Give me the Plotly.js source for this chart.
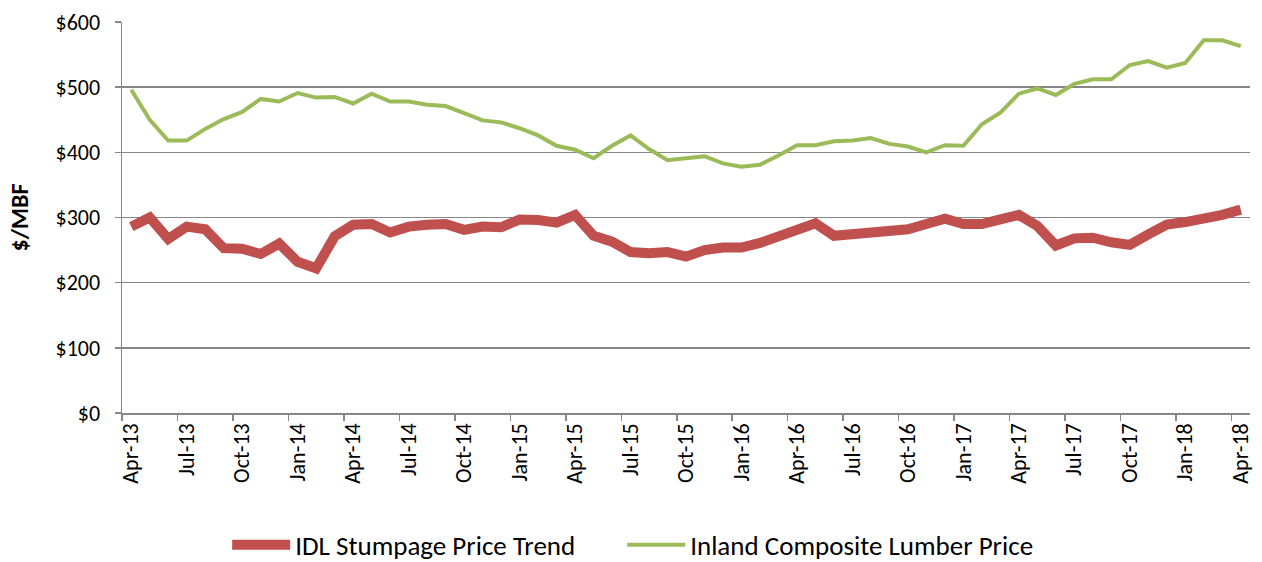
<!DOCTYPE html>
<html>
<head>
<meta charset="utf-8">
<script src="https://cdn.plot.ly/plotly-3.0.1.min.js"></script>
<style>html,body{margin:0;padding:0;background:#fff;}#chart{width:1262px;height:562px;}</style>
</head>
<body>
<div id="chart"></div>
<script>
// Months Apr-13 .. Apr-18 (61 monthly categories)
const monthNames = ["Jan","Feb","Mar","Apr","May","Jun","Jul","Aug","Sep","Oct","Nov","Dec"];
const months = [];
for (let k = 0; k < 61; k++) {
  const m = (3 + k) % 12;
  const y = 13 + Math.floor((3 + k) / 12);
  months.push(monthNames[m] + "-" + y);
}
const idlStumpage = [286,300,267,286,282,253,252,244,260,232,222,271,289,290,277,286,289,290,281,286,
  285,297,296,292,304,272,263,247,245,247,240,250,254,254,261,272,284,291,272,275,
  278,278,282,290,298,290,290,297,304,287,257,268,269,262,258,274,289,293,298,304,312];
const inlandLumber = [496,450,418,418,436,451,462,482,478,491,484,485,475,490,478,478,473,471,460,449,
  446,437,426,410,404,391,410,426,405,388,391,394,383,378,381,395,411,411,417,418,
  422,413,409,400,411,410,443,461,490,498,488,505,512,512,534,540,530,537,572,572,563];

const idx = months.map((_, i) => i);
const labelVals = idx.filter(i => i % 3 === 0);
const labelText = labelVals.map(i => months[i]);
const tickMarks = [];
for (let t = -0.5; t <= 60.5; t += 3) tickMarks.push(t);

const font = "Carlito, Calibri, Lato, sans-serif";
const grid = "#868686";

const traces = [
  {x: idx, y: idlStumpage, name: "IDL Stumpage Price Trend", type: "scatter", mode: "lines",
   line: {color: "#C0504D", width: 10}, legend: "legend"},
  {x: idx, y: inlandLumber, name: "Inland Composite Lumber Price", type: "scatter", mode: "lines",
   line: {color: "#9BBB59", width: 4}, legend: "legend2"}
];

const legendBase = {orientation: "h", xref: "container", yref: "container", xanchor: "left",
  y: 0.03, yanchor: "middle", font: {family: font, size: 27}, itemwidth: 58, bgcolor: "rgba(0,0,0,0)"};

const layout = {
  width: 1262, height: 562,
  margin: {l: 122, r: 12, t: 22, b: 149},
  paper_bgcolor: "#fff", plot_bgcolor: "#fff",
  font: {family: font, size: 22, color: "#000"},
  showlegend: true,
  legend: Object.assign({}, legendBase, {x: 0.18}),
  legend2: Object.assign({}, legendBase, {x: 0.493}),
  xaxis: {range: [-0.5, 60.5], tickmode: "array", tickvals: labelVals, ticktext: labelText,
          tickangle: -90, ticks: "", showgrid: false, zeroline: false,
          showline: true, linecolor: grid, linewidth: 1.5,
          tickfont: {family: font, size: 22},
          minor: {tickmode: "array", tickvals: tickMarks, ticks: "outside", ticklen: 6, tickcolor: grid, tickwidth: 1.5, showgrid: false}},
  yaxis: {range: [0, 600], dtick: 100, tickprefix: "$", ticks: "outside", ticklen: 6,
          tickcolor: grid, tickwidth: 1.5, showline: true, linecolor: grid, linewidth: 1.5,
          gridcolor: grid, gridwidth: 1.5, zeroline: false, ticklabelstandoff: 10,
          tickfont: {family: font, size: 22},
          title: {text: "<b>$/MBF</b>", font: {family: font, size: 24}, standoff: 20}}
};

Plotly.newPlot("chart", traces, layout, {displayModeBar: false, staticPlot: true});
</script>
</body>
</html>
